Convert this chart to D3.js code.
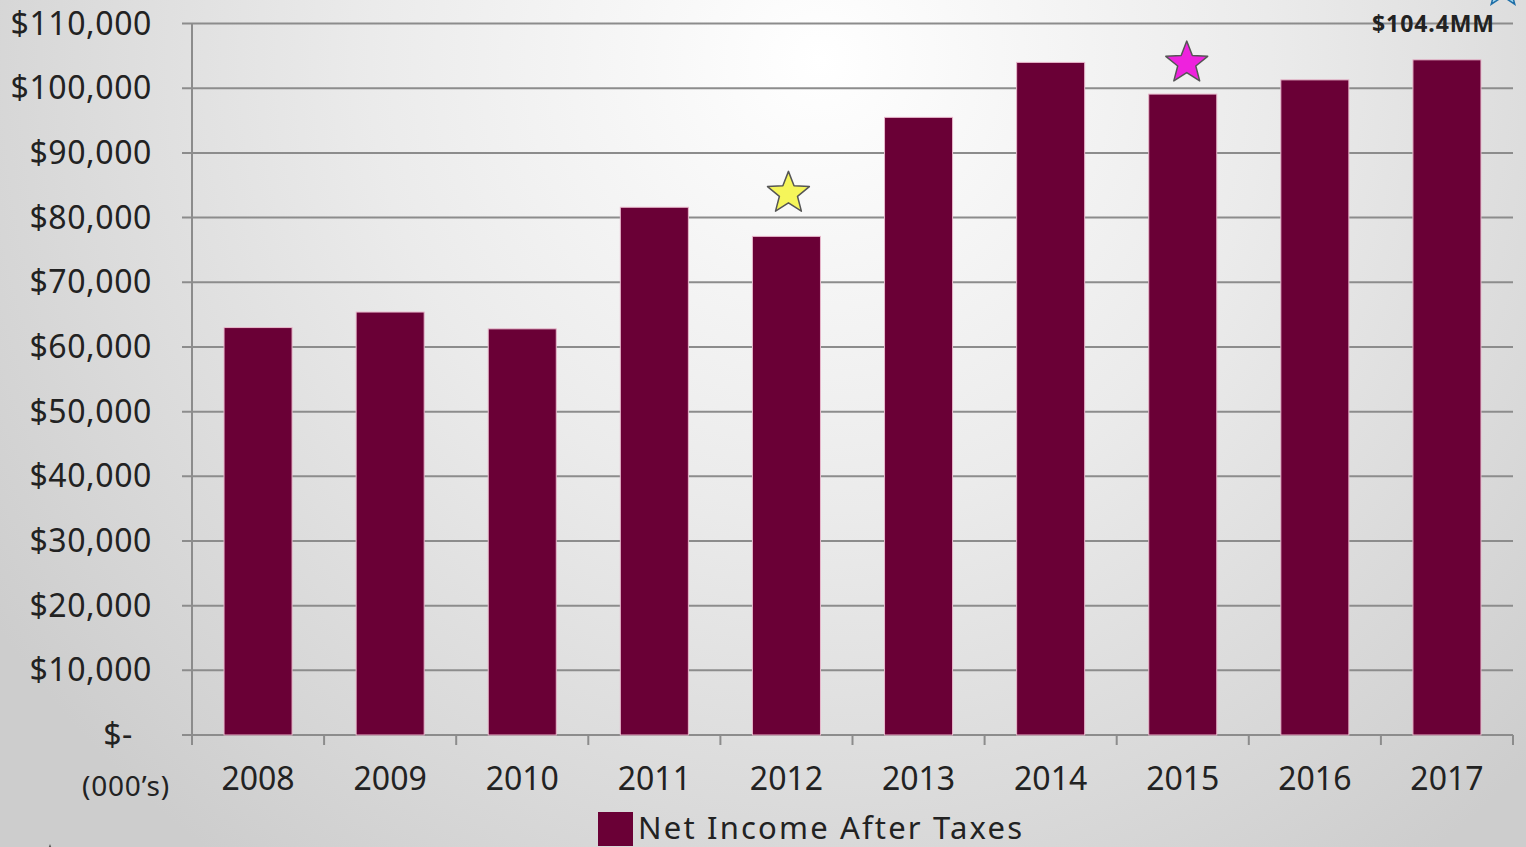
<!DOCTYPE html>
<html><head><meta charset="utf-8">
<script src="https://cdn.jsdelivr.net/npm/d3@7"></script>
<style>html,body{margin:0;padding:0;overflow:hidden;background:#d6d6d6;}</style>
</head><body>
<svg id="chart" width="1526" height="847"></svg>
<script>
const years = ["2008","2009","2010","2011","2012","2013","2014","2015","2016","2017"];
const netIncome = [63000, 65400, 62800, 81600, 77100, 95500, 104000, 99100, 101300, 104400];
const yTicks = [0,10000,20000,30000,40000,50000,60000,70000,80000,90000,100000,110000];
const seriesName = "Net Income After Taxes";
const unitLabel = "(000\u2019s)";
const totalLabel = "$104.4MM";
const starYears = [{year:"2012", color:"#f5f55a", offset:43, dx:2}, {year:"2015", color:"#ee22dd", offset:31, dx:4}];

const W = 1526, H = 847;
const svg = d3.select("#chart");
const defs = svg.append("defs");
const grad = defs.append("radialGradient").attr("id","bg")
  .attr("gradientUnits","userSpaceOnUse").attr("cx",820).attr("cy",60).attr("r",1000);
grad.append("stop").attr("offset","0").attr("stop-color","#ffffff");
grad.append("stop").attr("offset","0.45").attr("stop-color","#ebebeb");
grad.append("stop").attr("offset","1").attr("stop-color","#cdcdcd");
svg.append("rect").attr("width",W).attr("height",H).attr("fill","url(#bg)");

const font = "'Noto Sans', sans-serif";
const x0 = 192, x1 = 1513, yTop = 23.6, yBase = 735;
const x = d3.scaleBand().domain(years).range([x0, x1]).paddingInner(0.485).paddingOuter(0.2425);
const xb = d3.scaleBand().domain(years).range([x0, x1]).padding(0);
const y = d3.scaleLinear().domain([0,110000]).range([yBase, yTop]);

// gridlines
svg.append("g").selectAll("line").data(yTicks).join("line")
  .attr("x1", 182).attr("x2", x1).attr("y1", d=>y(d)).attr("y2", d=>y(d))
  .attr("stroke","#8c8c8c").attr("stroke-width",2);

// y axis line
svg.append("line").attr("x1",x0).attr("x2",x0).attr("y1",y(110000)).attr("y2",yBase+10)
  .attr("stroke","#8c8c8c").attr("stroke-width",2);

// x ticks
const xTickPos = years.map(d=>xb(d)).concat([x1]);
svg.append("g").selectAll("line").data(xTickPos).join("line")
  .attr("x1",d=>d).attr("x2",d=>d).attr("y1",yBase).attr("y2",yBase+10)
  .attr("stroke","#8c8c8c").attr("stroke-width",2);

// bars
svg.append("g").selectAll("rect").data(netIncome).join("rect")
  .attr("x",(d,i)=>x(years[i])).attr("width",x.bandwidth())
  .attr("y",d=>y(d)).attr("height",d=>yBase-y(d))
  .attr("fill","#6a0036").attr("stroke","#e8b8cc").attr("stroke-width",1);

// y labels
const fmt = d3.format(",");
svg.append("g").selectAll("text").data(yTicks).join("text")
  .attr("y",d=>y(d)+11)
  .attr("text-anchor","end").attr("font-family",font).attr("font-size",32)
  .attr("letter-spacing",0.6)
  .attr("fill","#222")
  .text(d=> d===0 ? "$-" : "$"+fmt(d))
  .attr("x",d=> d===0 ? 133 : 152);

svg.append("text").attr("x",126).attr("y",796).attr("text-anchor","middle")
  .attr("font-family",font).attr("font-size",28).attr("letter-spacing",0.8).attr("fill","#222").text(unitLabel);

// x labels
svg.append("g").selectAll("text").data(years).join("text")
  .attr("x",d=>xb(d)+xb.bandwidth()/2).attr("y",790)
  .attr("text-anchor","middle").attr("font-family",font).attr("font-size",32)
  .attr("fill","#222").text(d=>d);

// stars
const star = (cx, cy, R, r) => {
  const pts = [];
  for (let k=0;k<10;k++){
    const a = -Math.PI/2 + k*Math.PI/5;
    const rr = k%2===0 ? R : r;
    pts.push([cx+rr*Math.cos(a), cy+rr*Math.sin(a)]);
  }
  return "M"+pts.map(p=>p.join(",")).join("L")+"Z";
};
starYears.forEach(s=>{
  const i = years.indexOf(s.year);
  const cx = xb(s.year)+xb.bandwidth()/2 + s.dx;
  const cy = y(netIncome[i]) - s.offset;
  svg.append("path").attr("d",star(cx,cy,22,9.5)).attr("fill",s.color)
    .attr("stroke","#555").attr("stroke-width",1.5).attr("stroke-linejoin","round");
});
// partial stars at the edges
svg.append("path").attr("d",star(1503,-12,20,8.5)).attr("fill","#9fd6ee").attr("stroke","#1f6fa8").attr("stroke-width",1.5);
svg.append("path").attr("d",star(50,866,20,8.5)).attr("fill","#f5f55a").attr("stroke","#555").attr("stroke-width",1.5);

// total label
svg.append("text").attr("x",1433).attr("y",32).attr("text-anchor","middle")
  .attr("font-family",font).attr("font-weight","bold").attr("font-size",23)
  .attr("fill","#222").attr("textLength",122).attr("lengthAdjust","spacing").text(totalLabel);

// legend
svg.append("rect").attr("x",598).attr("y",812).attr("width",35).attr("height",34).attr("fill","#6a0036");
svg.append("text").attr("x",638).attr("y",839).attr("font-family",font).attr("font-size",31)
  .attr("fill","#222").attr("textLength",384).attr("lengthAdjust","spacing").text(seriesName);
</script>
</body></html>
